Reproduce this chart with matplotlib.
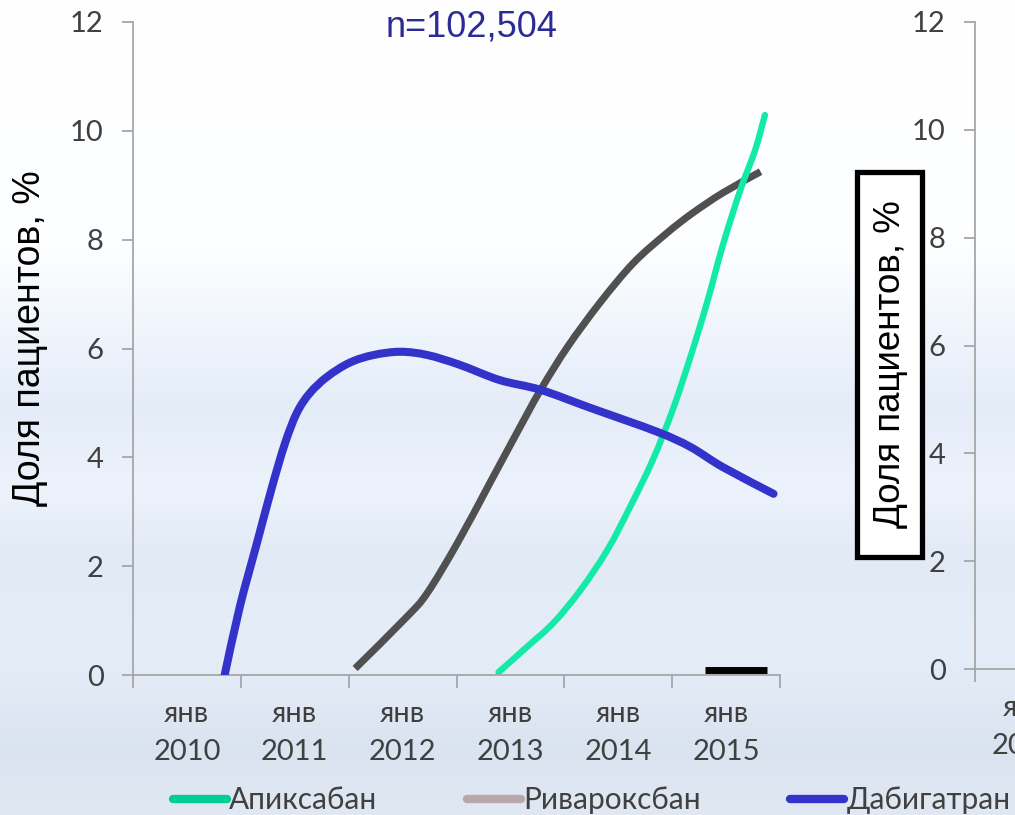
import matplotlib
matplotlib.use("Agg")
import matplotlib.pyplot as plt
import numpy as np
from matplotlib.path import Path
from matplotlib.patches import PathPatch, Rectangle
from matplotlib.lines import Line2D

# значения (x - дробный год, y - доля пациентов, %)
years = [2010, 2011, 2012, 2013, 2014, 2015]
year_labels = ["янв\n" + str(y) for y in years]

dabi_x = [2010.35, 2010.49, 2010.65, 2010.79, 2010.91, 2011.02, 2011.14, 2011.30,
          2011.51, 2011.73, 2011.98, 2012.23, 2012.53, 2012.90, 2013.28, 2013.74,
          2014.36, 2014.67, 2014.97, 2015.44]
dabi_y = [0.0, 1.25, 2.43, 3.46, 4.26, 4.82, 5.18, 5.48,
          5.74, 5.88, 5.94, 5.88, 5.70, 5.42, 5.24, 4.91,
          4.47, 4.19, 3.82, 3.33]

riva_x = [2011.56, 2012.04, 2012.23, 2012.51, 2012.81, 2013.06, 2013.28, 2013.53,
          2013.83, 2014.14, 2014.45, 2014.69, 2014.97, 2015.32]
riva_y = [0.12, 1.07, 1.51, 2.43, 3.53, 4.45, 5.24, 6.03,
          6.84, 7.57, 8.12, 8.49, 8.86, 9.25]

apix_x = [2012.89, 2013.15, 2013.40, 2013.65, 2013.90, 2014.11, 2014.32, 2014.51,
          2014.67, 2014.82, 2014.97, 2015.13, 2015.27, 2015.36]
apix_y = [0.05, 0.51, 0.96, 1.56, 2.30, 3.09, 3.95, 4.90,
          5.85, 6.82, 7.9, 8.9, 9.65, 10.29]

mark_x = [2014.8, 2015.38]
mark_y = [0.1, 0.1]

legend_names = ["Апиксабан", "Ривароксбан", "Дабигатран"]
legend_colors = ["#00cc96", "#b9a6aa", "#3333cc"]
yticks = [0, 2, 4, 6, 8, 10, 12]

TICK_FONT = ["Lato", "Open Sans", "DejaVu Sans"]
ARIAL = ["Liberation Sans", "DejaVu Sans"]
TXT = "#404040"


def smooth(x, y):
    # сглаженная линия как в Excel (Catmull-Rom -> кубические Безье)
    p = np.column_stack([x, y])
    pts = np.vstack([p[0], p, p[-1]])
    verts = [p[0]]
    codes = [Path.MOVETO]
    for i in range(1, len(pts) - 2):
        p0, p1, p2, p3 = pts[i - 1], pts[i], pts[i + 1], pts[i + 2]
        verts += [p1 + (p2 - p0) / 6, p2 - (p3 - p1) / 6, p2]
        codes += [Path.CURVE4] * 3
    return Path(verts, codes)


fig = plt.figure(figsize=(10.15, 8.15), dpi=100)

# фон: градиент как на слайде
bg = fig.add_axes([0, 0, 1, 1], zorder=-10)
stops = [0.0, 0.3, 0.42, 0.5, 0.6, 0.68, 0.8, 0.92, 1.0]
cols = ["#ffffff", "#fdfeff", "#eef4fc", "#e4ecf8", "#edf3fc", "#e2eaf6",
        "#e5edf8", "#dae4f0", "#e0e8f3"]
rgb = np.array([matplotlib.colors.to_rgb(c) for c in cols])
t = np.linspace(0, 1, 400)
grad = np.stack([np.interp(t, stops, rgb[:, k]) for k in range(3)], axis=1)
bg.imshow(grad[:, None, :], aspect="auto", extent=[0, 1, 0, 1])
bg.set_axis_off()


def style_axis(ax):
    ax.set_facecolor("none")
    for s in ["top", "right"]:
        ax.spines[s].set_visible(False)
    for s in ["left", "bottom"]:
        ax.spines[s].set_color("#a6a6a6")
        ax.spines[s].set_linewidth(1.3)
    ax.set_xlim(2009.5, 2015.5)
    ax.set_ylim(0, 12)
    ax.set_yticks(yticks)
    ax.set_yticklabels([str(v) for v in yticks], family=TICK_FONT, fontsize=21, color=TXT)
    ax.set_xticks([y - 0.5 for y in years] + [2015.5])
    ax.set_xticklabels([])
    ax.set_xticks(years, minor=True)
    ax.set_xticklabels(year_labels, minor=True, family=TICK_FONT, fontsize=21,
                       color=TXT, linespacing=1.55)
    ax.tick_params(axis="y", direction="out", length=8, width=1.3, color="#a6a6a6", pad=13)
    ax.tick_params(axis="x", which="major", direction="out", length=9, width=1.3,
                   color="#a6a6a6")
    ax.tick_params(axis="x", which="minor", length=0, pad=19)


ax = fig.add_axes([133 / 1015, 140 / 815, 647 / 1015, 653 / 815])
style_axis(ax)

ax.add_patch(PathPatch(smooth(dabi_x, dabi_y), fill=False, edgecolor="#3333cc",
                       lw=5.8, capstyle="round", zorder=3))
ax.add_patch(PathPatch(smooth(riva_x, riva_y), fill=False, edgecolor="#505050",
                       lw=5.2, capstyle="butt", zorder=2))
ax.add_patch(PathPatch(smooth(apix_x, apix_y), fill=False, edgecolor="#14eaa8",
                       lw=4.6, capstyle="round", zorder=2))
ax.plot(mark_x, mark_y, color="black", lw=5, solid_capstyle="butt", zorder=4)

fig.text(472 / 1015, 1 - 27 / 815, "n=102,504", ha="center", va="center",
         fontsize=26, color="#2b2b96", family=ARIAL)
fig.text(30 / 1015, 1 - 338 / 815, "Доля пациентов, %", rotation=90, ha="center",
         va="center", fontsize=27, color="black", family=ARIAL)

# правая (обрезанная) панель
ax2 = fig.add_axes([975 / 1015, 146 / 815, 600 / 1015, 647 / 815])
style_axis(ax2)

fig.patches.append(Rectangle((857 / 1015, 1 - 557 / 815), 65 / 1015, 385 / 815,
                             transform=fig.transFigure, facecolor="white",
                             edgecolor="black", lw=3.8, zorder=5))
fig.text(890 / 1015, 1 - 364 / 815, "Доля пациентов, %", rotation=90, ha="center",
         va="center", fontsize=26.5, color="black", family=ARIAL, zorder=6)

handles = [Line2D([], [], color=c, lw=6, solid_capstyle="round") for c in legend_colors]
leg = fig.legend(handles, legend_names, loc="center left",
                 bbox_to_anchor=(173 / 1015, 1 - 800 / 815),
                 ncol=3, frameon=False, prop={"family": TICK_FONT, "size": 21.5},
                 handlelength=1.8, handletextpad=0.08, columnspacing=3.0,
                 borderaxespad=0, borderpad=0)
for txt in leg.get_texts():
    txt.set_color(TXT)

fig.savefig("out.png", dpi=100)
